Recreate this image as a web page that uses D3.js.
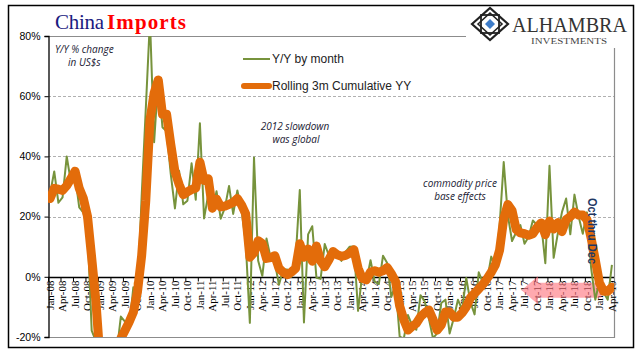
<!DOCTYPE html>
<html lang="en">
<meta charset="UTF-8">
<title>China Imports</title>
<script src="https://d3js.org/d3.v7.min.js"></script>
<style>
  body { margin: 0; background: #fff; }
  svg { display: block; }
  .ylab { font-family: "Liberation Sans", Arial, sans-serif; font-size: 10.5px; fill: #000; }
  .xlab { font-family: "Liberation Serif", "Times New Roman", serif; font-size: 11px; fill: #000; }
  .note { font-family: "Open Sans", "Liberation Sans", sans-serif; font-style: italic; font-size: 10px; fill: #1a1a33; }
  .leg { font-family: "Liberation Sans", Arial, sans-serif; font-size: 12px; fill: #222; }
</style>
<body>
<svg id="chart" width="641" height="361"></svg>
<script>
// monthly Y/Y % change in China imports (USD), Jan-08 .. Apr-19
var yoy = [
  27.6, 35.0, 24.6, 26.4, 40.0, 31.5, 33.7, 23.1, 21.3, 15.6, -17.9, -21.3,   // 2008
  -43.1, -24.1, -25.1, -23.0, -25.2, -13.2, -14.9, -17.0, -3.5, -6.4, 26.7, 55.9, // 2009
  85.5, 44.7, 66.0, 49.7, 48.3, 34.1, 22.7, 35.2, 24.1, 25.3, 37.7, 25.6,      // 2010
  51.0, 19.4, 27.3, 21.8, 28.4, 19.3, 22.9, 30.2, 20.9, 28.7, 22.1, 11.8,      // 2011
  -15.3, 39.6, 5.3, 0.3, 12.7, 6.3, 4.7, -2.6, 2.4, 2.4, 0.0, 6.0,             // 2012
  28.8, -15.2, 14.1, 16.8, -0.3, -0.7, 10.9, 7.0, 7.4, 7.6, 5.3, 8.3,          // 2013
  10.0, 10.1, -11.3, 0.8, -1.6, 5.5, -1.6, -2.4, 7.0, 4.6, -6.7, -2.4,         // 2014
  -19.9, -20.5, -12.7, -16.2, -17.6, -6.1, -8.1, -13.8, -20.4, -18.8, -8.7, -7.6, // 2015
  -18.8, -13.8, -7.6, -10.9, -0.4, -8.4, -12.5, 1.5, -1.9, -1.4, 6.7, 3.1,     // 2016
  16.7, 38.1, 20.3, 11.9, 14.8, 17.2, 11.0, 13.3, 18.7, 17.2, 17.7, 4.5,       // 2017
  36.9, 6.3, 14.4, 21.5, 26.0, 14.1, 27.3, 20.0, 14.3, 21.4, 3.0, -7.6,        // 2018
  -1.5, -5.2, -7.6, 4.0                                                         // 2019
];

// rolling 3 month cumulative Y/Y %
var rolling3m = [
  26.0, 29.4, 29.1, 28.7, 30.3, 32.6, 35.1, 29.4, 26.0, 20.0, 6.3, -7.9,
  -27.4, -29.5, -30.8, -24.1, -24.4, -20.5, -17.8, -15.0, -11.8, -5.0, 7.0, 25.4,
  52.0, 61.0, 65.4, 54.0, 54.0, 44.0, 35.0, 30.7, 27.3, 28.2, 29.0, 29.5,
  38.1, 32.0, 32.6, 22.8, 25.8, 23.2, 23.5, 24.1, 24.7, 26.0, 23.9, 20.9,
  6.5, 8.0, 12.0, 11.0, 6.1, 6.4, 7.0, 2.8, 1.5, 0.7, 1.6, 2.8,
  11.0, 6.5, 9.2, 5.2, 10.2, 5.3, 3.3, 5.7, 8.4, 7.3, 6.8, 7.1,
  7.9, 9.0, 2.9, -0.5, -1.0, 1.6, 2.0, 1.5, 2.0, 3.1, 1.0, -1.5,
  -9.7, -14.3, -17.7, -16.5, -15.5, -13.3, -12.0, -11.0, -14.1, -17.7, -16.0, -11.7,
  -11.7, -13.4, -13.4, -12.0, -10.0, -7.0, -5.5, -4.0, -2.5, -0.6, 1.5, 4.0,
  8.8, 19.3, 24.0, 22.0, 15.7, 14.6, 14.3, 13.8, 14.3, 16.4, 17.9, 14.0,
  18.5, 15.9, 18.0, 15.0, 19.0, 20.0, 21.5, 20.5, 20.5, 19.0, 12.9, 5.6,
  -2.0, -4.8, -4.8, -3.5
];

var months = d3.timeMonth.range(new Date(2008, 0, 1), new Date(2019, 4, 1));
var yTicks = [-20, 0, 20, 40, 60, 80];
var fmtMonth = d3.timeFormat("%b-%y");

var svg = d3.select("#chart");
var pL = 48, pR = 614, pT = 36, pB = 337;

var x = d3.scaleBand().domain(d3.range(months.length)).range([pL, pR]).padding(0);
var y = d3.scaleLinear().domain([-20, 80]).range([pB, pT]);
var cx = i => x(i) + x.bandwidth() / 2;

// outer frame
svg.append("rect").attr("x", 8.5).attr("y", 5.5).attr("width", 625).attr("height", 342)
  .attr("fill", "#fff").attr("stroke", "#000").attr("stroke-width", 1.5);

// grid
svg.append("g").selectAll("line").data([20, 40, 60]).join("line")
  .attr("x1", pL).attr("x2", pR)
  .attr("y1", d => Math.round(y(d)) + 0.5).attr("y2", d => Math.round(y(d)) + 0.5)
  .attr("stroke", "#b0b0b0").attr("stroke-dasharray", "3,2");

// plot border (top, right, bottom) gray
svg.append("path")
  .attr("d", `M${pL},${pT + 0.5}H${pR + 0.5}V${pB + 0.5}H${pL}`)
  .attr("fill", "none").attr("stroke", "#8c8c8c").attr("stroke-width", 1.2);

// y axis
var yAxis = svg.append("g").attr("transform", `translate(${pL + 0.5},0)`)
  .call(d3.axisLeft(y).tickValues(yTicks).tickSize(4).tickFormat(d => d + "%"));
yAxis.select(".domain").attr("stroke", "#000").attr("stroke-width", 1.3);
yAxis.selectAll("text").attr("class", "ylab").attr("x", -8);
yAxis.selectAll("line").attr("stroke", "#000");

// x axis at 0%
var y0 = Math.round(y(0)) + 0.5;
svg.append("line").attr("x1", pL).attr("x2", pR).attr("y1", y0).attr("y2", y0)
  .attr("stroke", "#000").attr("stroke-width", 1.3);
var qIdx = d3.range(0, months.length, 3);
svg.append("g").selectAll("line").data(qIdx).join("line")
  .attr("x1", i => x(i) + 0.5).attr("x2", i => x(i) + 0.5)
  .attr("y1", y0).attr("y2", y0 + 4).attr("stroke", "#000");
svg.append("g").selectAll("text").data(qIdx).join("text")
  .attr("class", "xlab")
  .attr("transform", i => `translate(${cx(i)},${y0 + 3}) rotate(-90)`)
  .attr("text-anchor", "end").attr("dy", "0.35em")
  .text(i => fmtMonth(months[i]));

// pink arrow pointing left, translucent over the month labels
var ay = y(-4.5);
svg.append("path")
  .attr("d", `M${cx(114) - 3},${ay} L${cx(117) + 1},${ay - 14} L${cx(117) + 1},${ay - 7.5} L${cx(132) + 2},${ay - 7.5} L${cx(132) + 2},${ay + 7.5} L${cx(117) + 1},${ay + 7.5} L${cx(117) + 1},${ay + 14} Z`)
  .attr("fill", "#ff6f7a").attr("opacity", 0.6);

// lines
svg.append("clipPath").attr("id", "clip").append("rect")
  .attr("x", pL).attr("y", pT).attr("width", pR - pL).attr("height", pB - pT);
var line = d3.line().x((d, i) => cx(i)).y(d => y(d));
var lines = svg.append("g").attr("clip-path", "url(#clip)");
lines.append("path").datum(yoy).attr("d", line)
  .attr("fill", "none").attr("stroke", "#77933c").attr("stroke-width", 2).attr("stroke-linejoin", "round");
lines.append("path").datum(rolling3m).attr("d", line)
  .attr("fill", "none").attr("stroke", "#e36c0a").attr("stroke-width", 9)
  .attr("stroke-linejoin", "round").attr("stroke-linecap", "round");

// legend
svg.append("line").attr("x1", 243).attr("x2", 270).attr("y1", 59).attr("y2", 59)
  .attr("stroke", "#77933c").attr("stroke-width", 2);
svg.append("text").attr("class", "leg").attr("x", 272).attr("y", 63).text("Y/Y by month");
svg.append("line").attr("x1", 244).attr("x2", 269).attr("y1", 86).attr("y2", 86)
  .attr("stroke", "#e36c0a").attr("stroke-width", 6).attr("stroke-linecap", "round");
svg.append("text").attr("class", "leg").attr("x", 272).attr("y", 90).text("Rolling 3m Cumulative YY");

// notes
svg.append("text").attr("class", "note").attr("x", 55).attr("y", 53).text("Y/Y % change");
svg.append("text").attr("class", "note").attr("x", 68).attr("y", 66).text("in US$s");
svg.append("text").attr("class", "note").attr("x", 295).attr("y", 130).attr("text-anchor", "middle").text("2012 slowdown");
svg.append("text").attr("class", "note").attr("x", 296).attr("y", 143).attr("text-anchor", "middle").text("was global");
svg.append("text").attr("class", "note").attr("x", 460).attr("y", 187).attr("text-anchor", "middle").text("commodity price");
svg.append("text").attr("class", "note").attr("x", 460).attr("y", 200).attr("text-anchor", "middle").text("base effects");
svg.append("text")
  .attr("transform", "translate(588,198) rotate(90)")
  .attr("font-family", "Liberation Sans, Arial, sans-serif").attr("font-weight", "bold")
  .attr("font-size", 13).attr("fill", "#1f3864")
  .attr("textLength", 66).attr("lengthAdjust", "spacingAndGlyphs")
  .text("Oct thru Dec");

// title
svg.append("text").attr("x", 55).attr("y", 29)
  .attr("font-family", "Liberation Serif, Times New Roman, serif").attr("font-size", 21)
  .attr("fill", "#1a1a80").attr("textLength", 49).text("China");
svg.append("text").attr("x", 107).attr("y", 29)
  .attr("font-family", "Liberation Serif, Times New Roman, serif").attr("font-size", 21)
  .attr("font-weight", "bold").attr("fill", "#ff0000").attr("textLength", 79).text("Imports");

// logo
var logo = svg.append("g");
logo.append("rect").attr("x", 466).attr("y", 7).attr("width", 166).attr("height", 41).attr("fill", "#fff");
var lx = 490, ly = 24;
logo.append("path").attr("d", `M${lx - 18},${ly} L${lx},${ly - 16} L${lx + 18},${ly} L${lx},${ly + 16} Z`)
  .attr("fill", "#fff").attr("stroke", "#222").attr("stroke-width", 2.2);
logo.append("rect").attr("x", lx - 9).attr("y", ly - 9).attr("width", 18).attr("height", 18)
  .attr("fill", "none").attr("stroke", "#222").attr("stroke-width", 1.8);
logo.append("path").attr("d", `M${lx - 12},${ly} L${lx},${ly - 11} L${lx + 12},${ly} L${lx},${ly + 11} Z`)
  .attr("fill", "none").attr("stroke", "#222").attr("stroke-width", 1.6);
logo.append("path").attr("d", `M${lx - 5},${ly} L${lx},${ly - 5} L${lx + 5},${ly} L${lx},${ly + 5} Z`)
  .attr("fill", "#3d7cc9");
logo.append("text").attr("x", 512).attr("y", 32)
  .attr("font-family", "Liberation Serif, Times New Roman, serif").attr("font-size", 21)
  .attr("fill", "#333").attr("textLength", 115).attr("lengthAdjust", "spacingAndGlyphs").text("ALHAMBRA");
logo.append("text").attr("x", 531).attr("y", 44)
  .attr("font-family", "Liberation Serif, Times New Roman, serif").attr("font-size", 8)
  .attr("fill", "#444").attr("textLength", 76).attr("lengthAdjust", "spacingAndGlyphs").text("INVESTMENTS");
</script>
</body>
</html>
